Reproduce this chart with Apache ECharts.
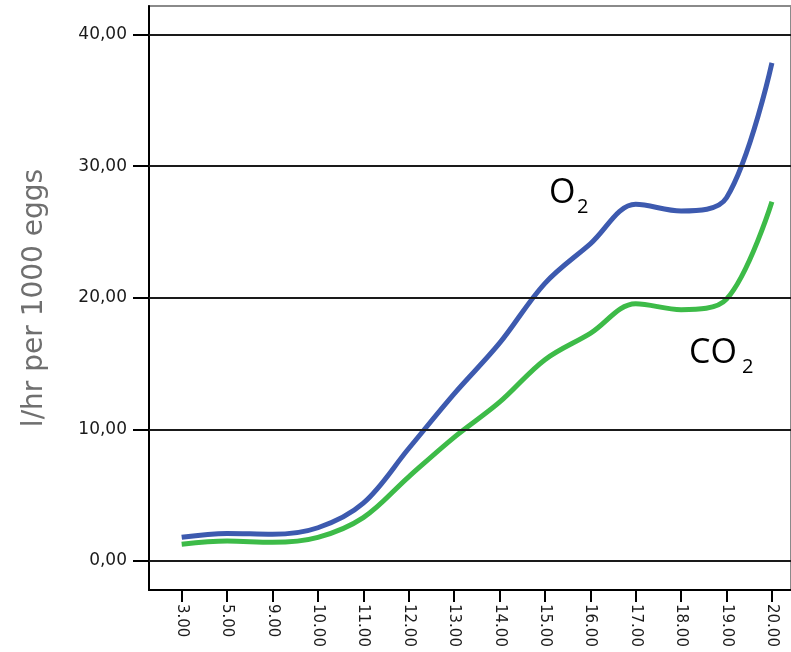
<!DOCTYPE html>
<html>
<head>
<meta charset="utf-8">
<script src="https://cdn.jsdelivr.net/npm/echarts@6/dist/echarts.min.js"></script>
<style>html,body{margin:0;padding:0;background:#fff}#c{width:791px;height:652px}</style>
</head>
<body>
<div id="c"></div>
<script>
const categories = ['3.00','5.00','9.00','10.00','11.00','12.00','13.00','14.00','15.00','16.00','17.00','18.00','19.00','20.00'];
const o2Values  = [1.80, 2.10, 2.03, 2.53, 4.40, 8.55, 12.70, 16.55, 21.10, 24.10, 27.10, 26.60, 27.60, 37.85];
const co2Values = [1.27, 1.52, 1.42, 1.80, 3.30, 6.40, 9.40, 12.07, 15.30, 17.30, 19.55, 19.10, 19.90, 27.30];
const yTicks = [0, 10, 20, 30, 40];
const yAxisTitle = 'l/hr per 1000 eggs';

const idx = categories.map((_, i) => i);
const chart = echarts.init(document.getElementById('c'), null, {renderer: 'canvas'});
const fmtY = v => v.toFixed(2).replace('.', ',');

chart.setOption({
  animation: false,
  backgroundColor: '#fff',
  grid: {left: 149, right: 0, top: 6, bottom: 62, show: true, borderColor: '#8a8a8a', borderWidth: 2, backgroundColor: 'transparent'},
  xAxis: {
    type: 'value', min: -0.72, max: 13.42,
    axisLine: {show: true, onZero: false, lineStyle: {color: '#000', width: 2}},
    axisTick: {show: true, customValues: idx, length: 12, lineStyle: {color: '#000', width: 2}},
    axisLabel: {customValues: idx, rotate: -90, margin: 14, fontFamily: 'DejaVu Sans', fontSize: 15, color: '#1a1a1a',
      formatter: v => categories[Math.round(v)]},
    splitLine: {show: false}
  },
  yAxis: {
    type: 'value', min: -2.2, max: 42.17,
    axisLine: {show: true, onZero: false, lineStyle: {color: '#000', width: 2}},
    axisTick: {show: true, customValues: yTicks, length: 16, lineStyle: {color: '#000', width: 2}},
    axisLabel: {customValues: yTicks, margin: 22, fontFamily: 'DejaVu Sans', fontSize: 17, color: '#1a1a1a', formatter: fmtY},
    splitLine: {show: false}
  },
  series: [
    {
      name: 'O2', type: 'line', smooth: 0.35, showSymbol: false,
      data: idx.map(i => [i, o2Values[i]]),
      lineStyle: {color: '#3d5aaf', width: 5}, itemStyle: {color: '#3d5aaf'},
      markLine: {
        silent: true, symbol: ['none', 'none'], label: {show: false},
        lineStyle: {color: '#1a1a1a', width: 1.8, type: 'solid'},
        data: yTicks.map(v => ({yAxis: v}))
      },
      z: 3
    },
    {
      name: 'CO2', type: 'line', smooth: 0.35, showSymbol: false,
      data: idx.map(i => [i, co2Values[i]]),
      lineStyle: {color: '#3dbb48', width: 5}, itemStyle: {color: '#3dbb48'},
      z: 3
    }
  ],
  graphic: [
    {type: 'text', x: 35, y: 298, rotation: Math.PI / 2,
      style: {text: yAxisTitle, fontFamily: 'DejaVu Sans', fontSize: 28, fill: '#6f6f6f', align: 'center', verticalAlign: 'middle'}},
    {type: 'text', x: 549, y: 193, style: {text: 'O', fontFamily: 'Open Sans', fontSize: 34, fill: '#000', align: 'left', verticalAlign: 'middle'}},
    {type: 'text', x: 577, y: 207, style: {text: '2', fontFamily: 'Open Sans', fontSize: 20, fill: '#000', align: 'left', verticalAlign: 'middle'}},
    {type: 'text', x: 689, y: 353, style: {text: 'CO', fontFamily: 'Open Sans', fontSize: 34, fill: '#000', align: 'left', verticalAlign: 'middle'}},
    {type: 'text', x: 742, y: 367, style: {text: '2', fontFamily: 'Open Sans', fontSize: 20, fill: '#000', align: 'left', verticalAlign: 'middle'}}
  ]
});
</script>
</body>
</html>
